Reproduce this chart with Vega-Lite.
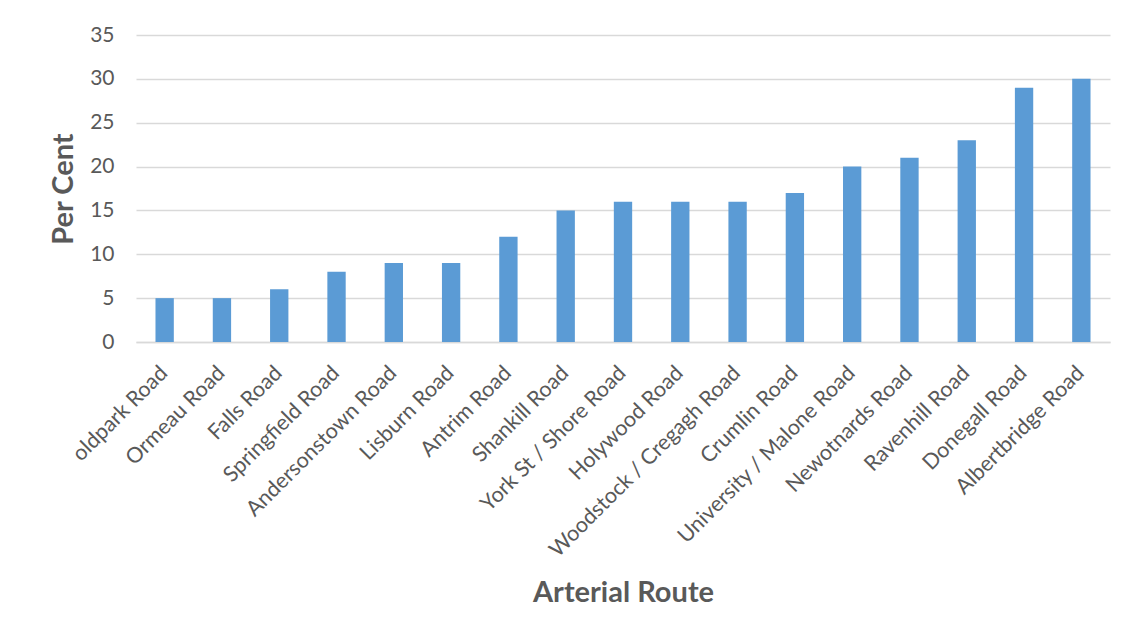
{
  "$schema": "https://vega.github.io/schema/vega-lite/v6.json",
  "autosize": "none",
  "width": 974,
  "height": 307,
  "padding": {"left": 136, "top": 35, "right": 21, "bottom": 299},
  "background": "white",
  "data": {
    "values": [
      {"route": "oldpark Road", "pct": 5},
      {"route": "Ormeau Road", "pct": 5},
      {"route": "Falls Road", "pct": 6},
      {"route": "Springfield Road", "pct": 8},
      {"route": "Andersonstown Road", "pct": 9},
      {"route": "Lisburn Road", "pct": 9},
      {"route": "Antrim Road", "pct": 12},
      {"route": "Shankill Road", "pct": 15},
      {"route": "York St / Shore Road", "pct": 16},
      {"route": "Holywood Road", "pct": 16},
      {"route": "Woodstock / Cregagh Road", "pct": 16},
      {"route": "Crumlin Road", "pct": 17},
      {"route": "University / Malone Road", "pct": 20},
      {"route": "Newotnards Road", "pct": 21},
      {"route": "Ravenhill Road", "pct": 23},
      {"route": "Donegall Road", "pct": 29},
      {"route": "Albertbridge Road", "pct": 30}
    ]
  },
  "mark": {"type": "bar", "color": "#5b9bd5"},
  "encoding": {
    "x": {
      "field": "route",
      "type": "nominal",
      "sort": null,
      "scale": {"paddingInner": 0.68, "paddingOuter": 0.34},
      "axis": {
        "title": "Arterial Route",
        "labelAngle": -45,
        "labelAlign": "right",
        "labelBaseline": "top",
        "labelFont": "Lato",
        "labelFontSize": 21.5,
        "labelColor": "#595959",
        "labelPadding": 20,
        "labelOffset": -8,
        "labelLimit": 500,
        "labelOverlap": false,
        "ticks": false,
        "domainColor": "#d9d9d9",
        "domainWidth": 1.5,
        "titleFont": "Lato",
        "titleFontSize": 29,
        "titleFontWeight": "bold",
        "titleColor": "#595959",
        "titlePadding": 36
      }
    },
    "y": {
      "field": "pct",
      "type": "quantitative",
      "scale": {"domain": [0, 35]},
      "axis": {
        "title": "Per Cent",
        "values": [0, 5, 10, 15, 20, 25, 30, 35],
        "labelFont": "Lato",
        "labelFontSize": 21,
        "labelColor": "#595959",
        "labelPadding": 22,
        "ticks": false,
        "domain": false,
        "grid": true,
        "gridColor": "#d9d9d9",
        "gridWidth": 1.5,
        "titleFont": "Lato",
        "titleFontSize": 29,
        "titleFontWeight": "bold",
        "titleColor": "#595959",
        "titlePadding": 11
      }
    }
  },
  "config": {"view": {"stroke": null}}
}
